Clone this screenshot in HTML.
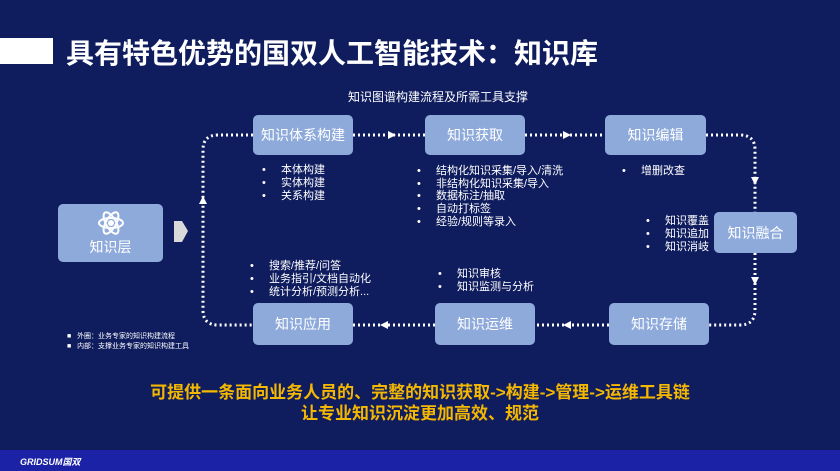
<!DOCTYPE html>
<html><head><meta charset="utf-8"><style>
*{margin:0;padding:0;box-sizing:border-box}
body{width:840px;height:471px;background:#0f1c5e;position:relative;overflow:hidden;font-family:"Liberation Sans","Noto Sans CJK SC",sans-serif;color:#fff}
.box{position:absolute;background:#8eaadb;border-radius:5px;color:#fff;font-size:14px;display:flex;align-items:center;justify-content:center}
.t{position:absolute;font-size:11px;line-height:12.8px;white-space:nowrap}
.t div:before{content:"•";display:inline-block;width:19px}
</style></head><body>
<div style="position:absolute;left:0;top:38px;width:53px;height:26px;background:#fff"></div>
<div style="position:absolute;left:66px;top:32px;font-size:28px;font-weight:bold;white-space:nowrap">具有特色优势的国双人工智能技术：知识库</div>
<div style="position:absolute;left:348px;top:88px;font-size:12px;white-space:nowrap">知识图谱构建流程及所需工具支撑</div>
<svg style="position:absolute;left:0;top:0" width="840" height="471">
<g fill="none" stroke="#fff" stroke-width="3" stroke-dasharray="2 3">
<path d="M253 135 H218 Q203 135 203 150 V310 Q203 325 218 325 H253"/>
<path d="M353 135 H425 M525 135 H605"/>
<path d="M706 135 H740 Q755 135 755 150 V212 M755 253 V310 Q755 325 740 325 H709"/>
<path d="M609 325 H535 M435 325 H353"/>
</g>
<g fill="#fff">
<path d="M388 131 L396 135 L388 139Z"/><path d="M563 131 L571 135 L563 139Z"/>
<path d="M751 177 L759 177 L755 185Z"/><path d="M751 277 L759 277 L755 285Z"/>
<path d="M571 321 L563 325 L571 329Z"/><path d="M388 321 L380 325 L388 329Z"/>
<path d="M199 204 L207 204 L203 196Z"/>
</g>
<path d="M174 221 H182 L188 231 L182 242 H174Z" fill="#d9d9d9"/>
</svg>
<div class="box" style="left:58px;top:204px;width:105px;height:58px;flex-direction:column;font-size:14px">
<svg width="28" height="28" viewBox="-14 -14 28 28"><g fill="none" stroke="#fff" stroke-width="2"><ellipse rx="12" ry="5"/><ellipse rx="12" ry="5" transform="rotate(60)"/><ellipse rx="12" ry="5" transform="rotate(-60)"/></g><circle r="3" fill="#fff"/></svg>
<span>知识层</span></div>
<div class="box" style="left:253px;top:115px;width:100px;height:40px">知识体系构建</div>
<div class="box" style="left:425px;top:115px;width:100px;height:40px">知识获取</div>
<div class="box" style="left:605px;top:115px;width:101px;height:40px">知识编辑</div>
<div class="box" style="left:714px;top:212px;width:83px;height:41px">知识融合</div>
<div class="box" style="left:609px;top:303px;width:100px;height:42px">知识存储</div>
<div class="box" style="left:435px;top:303px;width:100px;height:42px">知识运维</div>
<div class="box" style="left:253px;top:303px;width:100px;height:42px">知识应用</div>
<div class="t" style="left:262px;top:164px"><div>本体构建</div><div>实体构建</div><div>关系构建</div></div>
<div class="t" style="left:417px;top:165px;line-height:12.7px"><div>结构化知识采集/导入/清洗</div><div>非结构化知识采集/导入</div><div>数据标注/抽取</div><div>自动打标签</div><div>经验/规则等录入</div></div>
<div class="t" style="left:622px;top:165px"><div>增删改查</div></div>
<div class="t" style="left:646px;top:215px"><div>知识覆盖</div><div>知识追加</div><div>知识消岐</div></div>
<div class="t" style="left:438px;top:268px"><div>知识审核</div><div>知识监测与分析</div></div>
<div class="t" style="left:250px;top:260px"><div>搜索/推荐/问答</div><div>业务指引/文档自动化</div><div>统计分析/预测分析...</div></div>
<div style="position:absolute;left:67px;top:332px;font-size:7px;line-height:10px;white-space:nowrap"><div>■ &nbsp;&nbsp;外圈：业务专家的知识构建流程</div><div>■ &nbsp;&nbsp;内部：支撑业务专家的知识构建工具</div></div>
<div style="position:absolute;left:0;width:840px;top:382px;text-align:center;color:#f5b800;font-size:17px;font-weight:bold;line-height:21px">可提供一条面向业务人员的、完整的知识获取->构建->管理->运维工具链<br>让专业知识沉淀更加高效、规范</div>
<div style="position:absolute;left:0;top:450px;width:840px;height:21px;background:#1b22a5"></div>
<div style="position:absolute;left:20px;top:455px;font-size:9px;font-weight:bold;font-style:italic;white-space:nowrap">GRIDSUM国双</div>
</body></html>
